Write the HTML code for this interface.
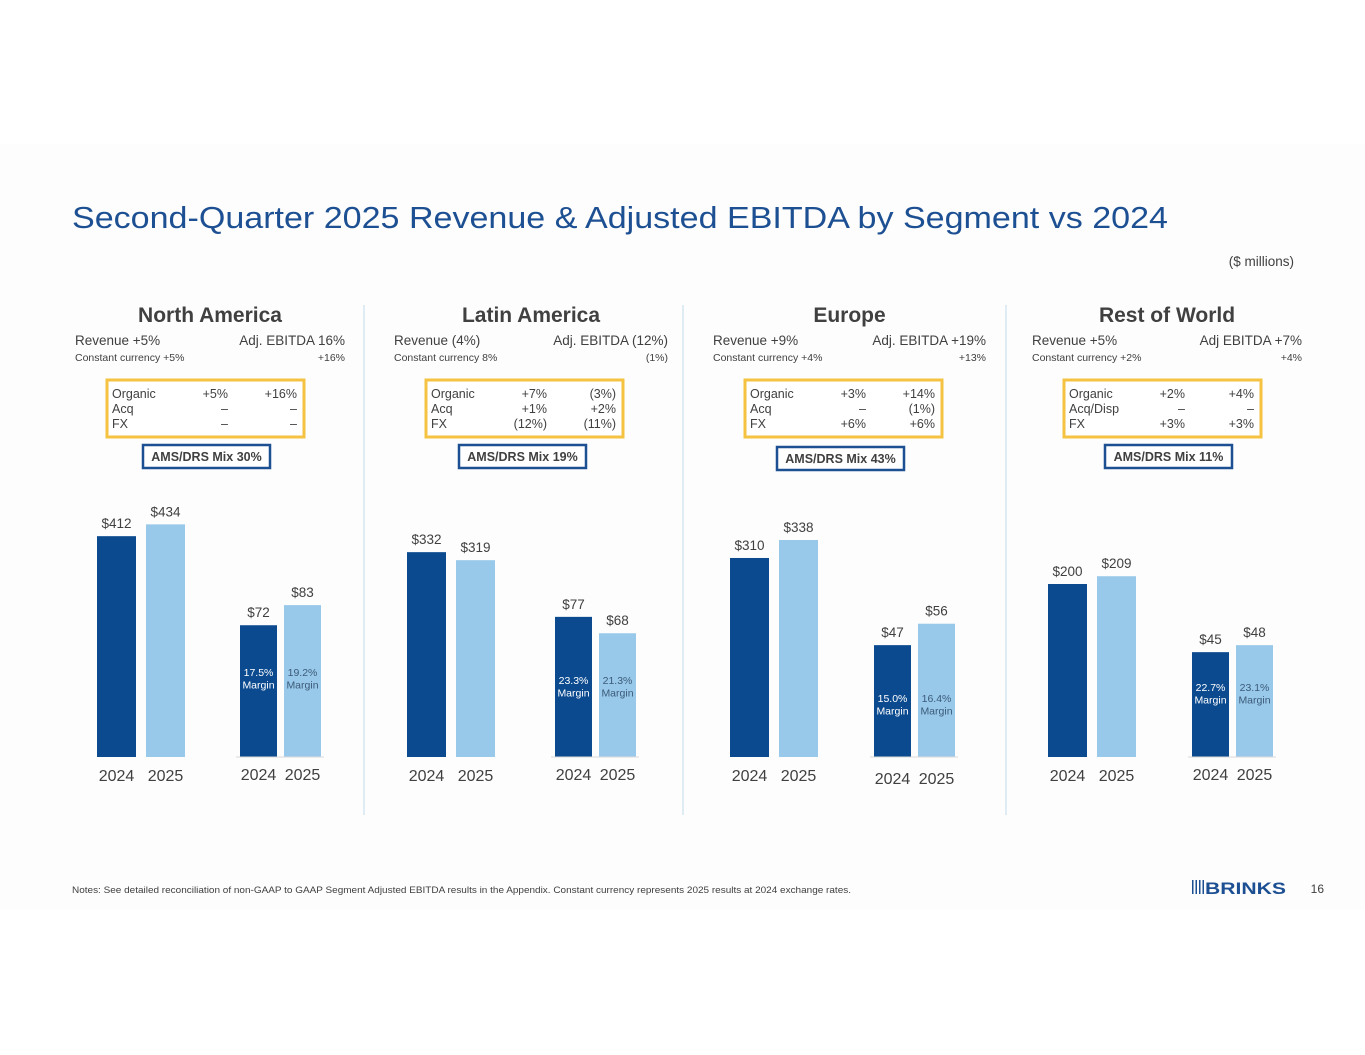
<!DOCTYPE html>
<html><head><meta charset="utf-8"><style>
html,body{margin:0;padding:0;background:#fff;}
svg{display:block;font-family:"Liberation Sans",sans-serif;}
</style></head><body>
<svg id="c" width="1365" height="1055" viewBox="0 0 1365 1055">
<rect x="0" y="144" width="1365" height="766" fill="#fcfdfc"/>
<text x="72" y="228" font-size="31" fill="#1d4f93" textLength="1096" lengthAdjust="spacingAndGlyphs">Second-Quarter 2025 Revenue &amp; Adjusted EBITDA by Segment vs 2024</text>
<text x="1294" y="266" font-size="13.5" fill="#404040" text-anchor="end">($ millions)</text>
<line x1="364" y1="305" x2="364" y2="815" stroke="#d6e6f2" stroke-width="1.5"/>
<line x1="683" y1="305" x2="683" y2="815" stroke="#d6e6f2" stroke-width="1.5"/>
<line x1="1006" y1="305" x2="1006" y2="815" stroke="#d6e6f2" stroke-width="1.5"/>
<text x="72" y="893" font-size="9.5" fill="#404040" textLength="779" lengthAdjust="spacingAndGlyphs">Notes: See detailed reconciliation of non-GAAP to GAAP Segment Adjusted EBITDA results in the Appendix. Constant currency represents 2025 results at 2024 exchange rates.</text>
<g>
<rect x="1192" y="880" width="1.5" height="14" fill="#1d4f93"/><rect x="1195.5" y="880" width="1.5" height="14" fill="#1d4f93"/><rect x="1199" y="880" width="1.5" height="14" fill="#1d4f93"/><rect x="1202.5" y="880" width="1.5" height="14" fill="#1d4f93"/>
<text x="1205" y="894" font-size="17" font-weight="bold" fill="#1d4f93" textLength="81" lengthAdjust="spacingAndGlyphs">BRINKS</text>
</g>
<text x="1324" y="893" font-size="12" fill="#404040" text-anchor="end">16</text>
<g id="panels"></g>
</svg>
<script>
const segments = ["North America","Latin America","Europe","Rest of World"];
const revenue2024 = [412,332,310,200];
const revenue2025 = [434,319,338,209];
const ebitda2024 = [72,77,47,45];
const ebitda2025 = [83,68,56,48];
const margin2024 = ["17.5%","23.3%","15.0%","22.7%"];
const margin2025 = ["19.2%","21.3%","16.4%","23.1%"];
const revenueText = ["Revenue +5%","Revenue (4%)","Revenue +9%","Revenue +5%"];
const ebitdaText = ["Adj. EBITDA 16%","Adj. EBITDA (12%)","Adj. EBITDA +19%","Adj EBITDA +7%"];
const ccRevText = ["Constant currency +5%","Constant currency 8%","Constant currency +4%","Constant currency +2%"];
const ccEbText = ["+16%","(1%)","+13%","+4%"];
const bridgeLabels = [["Organic","Acq","FX"],["Organic","Acq","FX"],["Organic","Acq","FX"],["Organic","Acq/Disp","FX"]];
const bridgeRev = [["+5%","–","–"],["+7%","+1%","(12%)"],["+3%","–","+6%"],["+2%","–","+3%"]];
const bridgeEb = [["+16%","–","–"],["(3%)","+2%","(11%)"],["+14%","(1%)","+6%"],["+4%","–","+3%"]];
const amsMix = ["30%","19%","43%","11%"];
const years = ["2024","2025"];

// layout (not data)
const panelL=[75,394,713,1032], panelR=[345,668,986,1302];
const revX=[97,407,730,1048], ebX=[240,555,874,1192];
const amsX=[143,459,777,1105];
const marginY=[676,684,702,691];
const revScale=[0.536,0.617,0.642,0.865], ebScale=[1.83,1.82,2.38,2.33];
const base=757;
const DARK="#0b4a8f", LIGHT="#99c9ea", GRAY="#404040";
const NS="http://www.w3.org/2000/svg";
const root=document.getElementById('panels');
function el(tag,attrs,parent,txt){const e=document.createElementNS(NS,tag);for(const k in attrs)e.setAttribute(k,attrs[k]);if(txt!==undefined)e.textContent=txt;(parent||root).appendChild(e);return e;}
function yRev(i,v){return base-v*revScale[i];}
function yEb(i,v){return base-v*ebScale[i];}

segments.forEach((s,i)=>{
  const g=el('g',{});
  
  
  const L=panelL[i],R=panelR[i],mid=(L+R)/2;
  let t=el('text',{x:mid,y:322,'font-size':21,'font-weight':'bold',fill:GRAY,'text-anchor':'middle'},g,s);
  
  
  t=el('text',{x:L,y:345,'font-size':13.5,fill:GRAY},g,revenueText[i]);
  
  
  t=el('text',{x:R,y:345,'font-size':13.5,fill:GRAY,'text-anchor':'end'},g,ebitdaText[i]);
  
  
  t=el('text',{x:L,y:361,'font-size':10.5,fill:GRAY},g,ccRevText[i]);
  
  
  t=el('text',{x:R,y:361,'font-size':10.5,fill:GRAY,'text-anchor':'end'},g,ccEbText[i]);
  
  
  const bx=L+32;
  const box=el('rect',{x:bx,y:380,width:197,height:57,fill:'#fff',stroke:'#f5c242','stroke-width':3},g);
  
  
  for(let r=0;r<3;r++){
    const y=398+r*15;
    t=el('text',{x:bx+5,y:y,'font-size':12.5,fill:GRAY},g,bridgeLabels[i][r]);
    
    
    t=el('text',{x:bx+121,y:y,'font-size':12.5,fill:GRAY,'text-anchor':'end'},g,bridgeRev[i][r]);
    
    
    t=el('text',{x:bx+190,y:y,'font-size':12.5,fill:GRAY,'text-anchor':'end'},g,bridgeEb[i][r]);
    
    
  }
  const ay=i==2?447:445;
  const ab=el('rect',{x:amsX[i],y:ay,width:127,height:23,fill:'#fff',stroke:'#1d4f93','stroke-width':2.5},g);
  
  
  t=el('text',{x:amsX[i]+63.5,y:ay+16,'font-size':12.5,'font-weight':'bold',fill:GRAY,'text-anchor':'middle'},g,'AMS/DRS Mix  '+amsMix[i]);
  
  
  [revenue2024[i],revenue2025[i]].forEach((v,k)=>{
    const x=revX[i]+k*49, y=yRev(i,v);
    const b=el('rect',{x:x,y:y,width:39,height:base-y,fill:k?LIGHT:DARK},g);
    
    
    const lb=el('text',{x:x+19.5,y:y-8,'font-size':13.5,fill:GRAY,'text-anchor':'middle'},g,'$'+v);
    
    
    const yl=el('text',{x:x+19.5,y:781,'font-size':16,fill:GRAY,'text-anchor':'middle'},g,years[k]);
    
    
  });
  [ebitda2024[i],ebitda2025[i]].forEach((v,k)=>{
    const x=ebX[i]+k*44, y=yEb(i,v);
    const b=el('rect',{x:x,y:y,width:37,height:base-y,fill:k?LIGHT:DARK},g);
    
    
    const lb=el('text',{x:x+18.5,y:y-8,'font-size':13.5,fill:GRAY,'text-anchor':'middle'},g,'$'+v);
    
    
    const my=marginY[i];
    const m1=el('text',{x:x+18.5,y:my,'font-size':10.5,fill:k?'#3c5a78':'#fff','text-anchor':'middle'},g,(k?margin2025:margin2024)[i]);
    
    
    const m2=el('text',{x:x+18.5,y:my+12.5,'font-size':10.5,fill:k?'#3c5a78':'#fff','text-anchor':'middle'},g,'Margin');
    
    
    const yl=el('text',{x:x+18.5,y:i==2?784:780,'font-size':16,fill:GRAY,'text-anchor':'middle'},g,years[k]);
    
    
  });
  const bl=el('line',{x1:ebX[i]-4,y1:base,x2:ebX[i]+84,y2:base,stroke:'#d9d9d9','stroke-width':1},g);
  
  
});
</script>
</body></html>
